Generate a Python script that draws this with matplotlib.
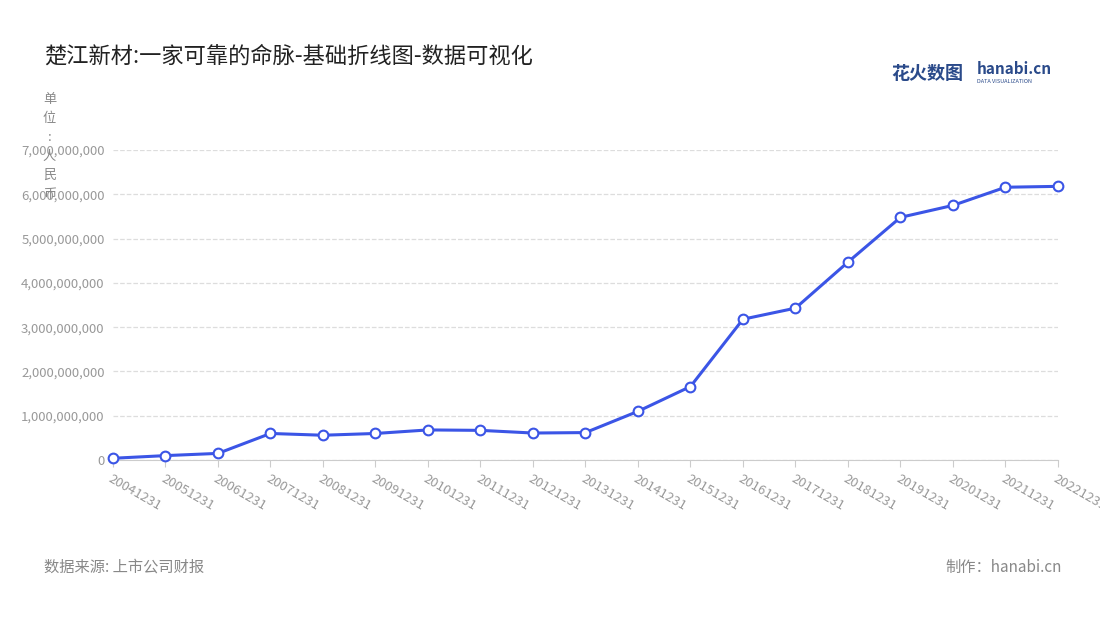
import matplotlib
matplotlib.use("Agg")
import matplotlib.pyplot as plt
from matplotlib.ticker import FuncFormatter

plt.rcParams['font.family'] = ['Noto Sans CJK SC', 'DejaVu Sans']

dates = ["20041231","20051231","20061231","20071231","20081231","20091231","20101231",
         "20111231","20121231","20131231","20141231","20151231","20161231","20171231",
         "20181231","20191231","20201231","20211231","20221231"]
values = [0.04e9,0.10e9,0.15e9,0.60e9,0.56e9,0.60e9,0.68e9,0.67e9,0.61e9,0.62e9,
          1.10e9,1.66e9,3.18e9,3.43e9,4.47e9,5.48e9,5.75e9,6.16e9,6.18e9]
yticks = [0,1e9,2e9,3e9,4e9,5e9,6e9,7e9]

fig = plt.figure(figsize=(11,6.2), dpi=100)
ax = fig.add_axes([0.1027, 0.258, 0.8591, 0.5])
x = list(range(len(dates)))
ax.plot(x, values, color='#3b55e6', lw=2.2, marker='o', ms=7,
        markerfacecolor='white', markeredgecolor='#3b55e6', markeredgewidth=1.5, zorder=3, clip_on=False)
ax.set_xlim(0, len(dates)-1)
ax.set_ylim(0, 7e9)
ax.set_yticks(yticks)
ax.yaxis.set_major_formatter(FuncFormatter(lambda v, p: f"{int(v):,}"))
ax.set_xticks(x)
ax.set_xticklabels(dates, rotation=-30, ha='left', rotation_mode='anchor', fontsize=9.5, color='#999999')
ax.tick_params(axis='y', length=0, labelsize=9.5, labelcolor='#999999', pad=6)
ax.tick_params(axis='x', length=5, color='#cccccc')
ax.grid(axis='y', color='#dddddd', ls='--', lw=0.9)
for s in ['top','right','left']:
    ax.spines[s].set_visible(False)
ax.spines['bottom'].set_color('#cccccc')

fig.text(0.04, 0.91, "楚江新材:一家可靠的命脉-基础折线图-数据可视化", fontsize=16, color='#222222', va='center')
fig.text(0.045, 0.85, "单\n位\n:\n人\n民\n币", fontsize=9.5, color='#888888', va='top', ha='center', linespacing=1.6)
fig.text(0.04, 0.085, "数据来源: 上市公司财报", fontsize=11, color='#888888', va='center')
fig.text(0.965, 0.085, "制作：hanabi.cn", fontsize=11, color='#888888', va='center', ha='right')
fig.text(0.81, 0.882, "花火数图", fontsize=13, color='#2a4a8a', weight='bold', va='center')
fig.text(0.888, 0.888, "hanabi.cn", fontsize=11, color='#2a4a8a', weight='bold', va='center')
fig.text(0.888, 0.869, "DATA VISUALIZATION", fontsize=4, color='#2a4a8a', va='center')
fig.savefig("out.png", dpi=100)
